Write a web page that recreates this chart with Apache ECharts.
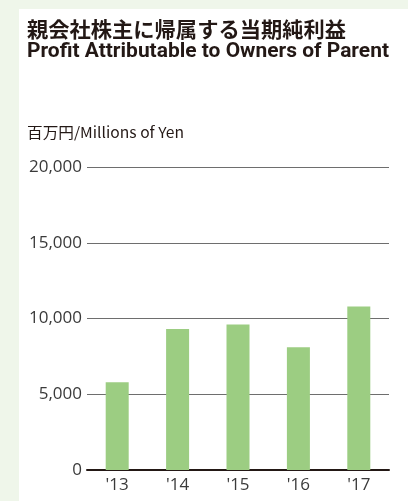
<!DOCTYPE html>
<html>
<head>
<meta charset="utf-8">
<script src="https://cdn.jsdelivr.net/npm/echarts@6/dist/echarts.min.js"></script>
<style>
  html, body { margin: 0; padding: 0; background: #eff6ea; }
  #chart { width: 408px; height: 501px; }
</style>
</head>
<body>
<div id="chart"></div>
<script>
// 年度と当期純利益（百万円）
var years = ["'13", "'14", "'15", "'16", "'17"];
var profit = [5800, 9300, 9600, 8100, 10800];
var yTicks = [0, 5000, 10000, 15000, 20000];

var titleJa = '親会社株主に帰属する当期純利益';
var titleEn = 'Profit Attributable to Owners of Parent';
var fontJa = 'bold 21px "Noto Sans CJK JP"';
var fontEn = 'bold 21px Roboto, sans-serif';

// 英語タイトルは細身の書体なので横幅を合わせて縮める
function fitScale(text, font, width) {
    var ctx = document.createElement('canvas').getContext('2d');
    ctx.font = font;
    return width / ctx.measureText(text).width;
}

var chart = echarts.init(document.getElementById('chart'));
var option = {
    backgroundColor: '#eff6ea',
    animation: false,
    graphic: [
        {
            type: 'rect',
            shape: { x: 19, y: 9, width: 389, height: 492 },
            style: { fill: '#ffffff' },
            z: -10
        },
        {
            type: 'text',
            x: 27, y: 19,
            scaleX: fitScale(titleJa, fontJa, 319),
            style: { text: titleJa, font: fontJa, fill: '#231815' }
        },
        {
            type: 'text',
            x: 27, y: 41,
            scaleX: fitScale(titleEn, fontEn, 362),
            style: { text: titleEn, font: fontEn, fill: '#231815' }
        },
        {
            type: 'text',
            x: 27, y: 125,
            scaleX: fitScale('百万円/Millions of Yen', '15px "Noto Sans CJK JP"', 157),
            style: { text: '百万円/Millions of Yen', font: '15px "Noto Sans CJK JP"', fill: '#231815' }
        }
    ],
    grid: { left: 87, right: 19, top: 167, bottom: 31 },
    xAxis: {
        type: 'category',
        data: years,
        axisTick: { show: false },
        axisLine: { lineStyle: { color: '#231815', width: 2 } },
        axisLabel: { color: '#3a3a3a', fontSize: 17, margin: 7, fontFamily: '"Open Sans", sans-serif' }
    },
    yAxis: {
        type: 'value',
        min: yTicks[0],
        max: yTicks[yTicks.length - 1],
        interval: 5000,
        axisLabel: {
            color: '#3a3a3a',
            fontSize: 17,
            margin: 5,
            fontFamily: '"Open Sans", sans-serif',
            formatter: function (v) { return v.toLocaleString('en-US'); }
        },
        splitLine: { lineStyle: { color: '#6e6e6e', width: 1 } }
    },
    series: [
        {
            type: 'bar',
            data: profit,
            barWidth: 23,
            itemStyle: { color: '#9ccd82' }
        }
    ]
};
chart.setOption(option);
</script>
</body>
</html>
